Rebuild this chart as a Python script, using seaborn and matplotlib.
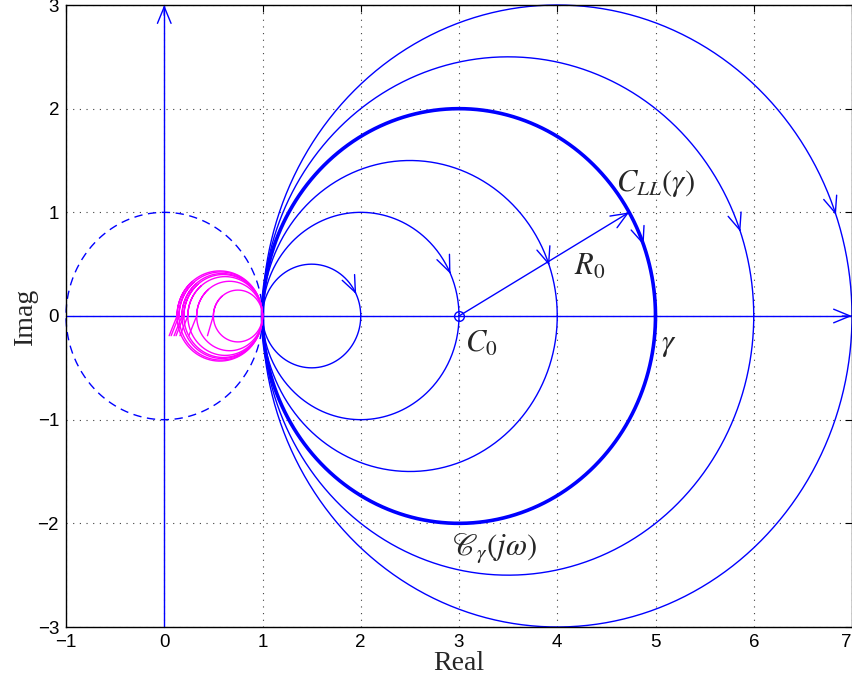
import numpy as np
import pandas as pd
import matplotlib
matplotlib.use("Agg")
import matplotlib.pyplot as plt
import seaborn as sns

# ---------------- data ----------------
# blue circles through (1,0): centers and radii
circle_centers = [1.5, 2.0, 2.5, 3.0, 3.5, 4.0]
circle_radii = [0.5, 1.0, 1.5, 2.0, 2.5, 3.0]
circle_thick = [False, False, False, True, False, False]
arrow_angles_deg = [25, 24, 19, 20, 19, 19]   # arrowhead position on each circle

# unit circle (dashed)
unit_center = [0.0, 0.0]
unit_radius = 1.0

# magenta loops: leftmost point of each loop (all pass through (1,0))
mag_left = [0.13, 0.15, 0.18, 0.20, 0.24, 0.33, 0.50]
mag_tail_dx = [-0.08, -0.08, -0.08, -0.08, -0.08, -0.08, -0.06]
mag_tail_dy = [-0.19, -0.19, -0.19, -0.19, -0.19, -0.19, -0.19]

# radius vector C0 -> point on gamma
c0 = [3.0, 0.0]
r0_angle_deg = 30

x_ticks = [-1, 0, 1, 2, 3, 4, 5, 6, 7]
y_ticks = [-3, -2, -1, 0, 1, 2, 3]

BLUE = (0, 0, 1)
MAG = (1, 0, 1)

# ---------------- style ----------------
sns.set_style("white")
plt.rcParams["font.family"] = ["Liberation Sans", "DejaVu Sans"]
plt.rcParams["mathtext.fontset"] = "stix"

fig = plt.figure(figsize=(8.53, 6.82), dpi=100)
ax = fig.add_axes([66 / 853, 1 - 627 / 682, 786 / 853, 622 / 682])


def circle_df(cx, cy, r, t0=0.0, t1=2 * np.pi, n=600):
    t = np.linspace(t0, t1, n)
    return pd.DataFrame({"x": cx + r * np.cos(t), "y": cy + r * np.sin(t)})


def arrow_on(p_from, p_to):
    ax.annotate("", xy=p_to, xytext=p_from,
                arrowprops=dict(arrowstyle="->,head_length=0.85,head_width=0.35",
                                color=BLUE, lw=1.0, shrinkA=0, shrinkB=0,
                                mutation_scale=14),
                annotation_clip=False)


# axes lines
ax_df = pd.DataFrame({"x": [-1, 7], "y": [0, 0]})
sns.lineplot(data=ax_df, x="x", y="y", sort=False, estimator=None, color=BLUE, lw=1.0, ax=ax)
arrow_on((6.9, 0), (7, 0))
ay_df = pd.DataFrame({"x": [0, 0], "y": [-3, 3]})
sns.lineplot(data=ay_df, x="x", y="y", sort=False, estimator=None, color=BLUE, lw=1.0, ax=ax)
arrow_on((0, 2.9), (0, 3))

# dashed unit circle
ud = circle_df(unit_center[0], unit_center[1], unit_radius)
sns.lineplot(data=ud, x="x", y="y", sort=False, estimator=None, color=BLUE, lw=1.0,
             ax=ax, linestyle=(0, (6, 4)))

# blue circles
for cx, r, thick, ang in zip(circle_centers, circle_radii, circle_thick, arrow_angles_deg):
    d = circle_df(cx, 0, r)
    sns.lineplot(data=d, x="x", y="y", sort=False, estimator=None, color=BLUE,
                 lw=2.6 if thick else 1.0, ax=ax)
    a = np.deg2rad(ang)
    p1 = (cx + r * np.cos(a), r * np.sin(a))
    a0 = a + 0.02 / r
    p0 = (cx + r * np.cos(a0), r * np.sin(a0))
    arrow_on(p0, p1)

# magenta loops
for left, tdx, tdy in zip(mag_left, mag_tail_dx, mag_tail_dy):
    cx = (left + 1) / 2
    r = (1 - left) / 2
    arc = circle_df(cx, 0, r, np.pi, -np.pi - np.deg2rad(50), 500)
    tail = pd.DataFrame({"x": [left + tdx], "y": [tdy]})
    d = pd.concat([tail, arc], ignore_index=True)
    sns.lineplot(data=d, x="x", y="y", sort=False, estimator=None, color=MAG, lw=1.0, ax=ax)

# radius vector and center marker
ar = np.deg2rad(r0_angle_deg)
pend = (c0[0] + 2.0 * np.cos(ar), c0[1] + 2.0 * np.sin(ar))
ax.plot([c0[0], pend[0]], [c0[1], pend[1]], color=BLUE, lw=1.0)
arrow_on((pend[0] - 0.02 * np.cos(ar), pend[1] - 0.02 * np.sin(ar)), pend)
ax.plot([c0[0]], [c0[1]], marker="o", mfc="none", mec=BLUE, ms=7, mew=1.0)

for ln in ax.lines:
    ln.set_clip_on(False)

# text annotations
FS = 22
ax.text(4.60, 1.28, r"$C_{LL}(\gamma)$", fontsize=FS, va="center", ha="left")
ax.text(4.17, 0.47, r"$R_0$", fontsize=FS, va="center", ha="left")
ax.text(3.06, -0.27, r"$C_0$", fontsize=FS, va="center", ha="left")
ax.text(5.06, -0.27, r"$\gamma$", fontsize=FS, va="center", ha="left")
ax.text(2.93, -2.25, r"$\mathscr{C}_{\gamma}(j\omega)$", fontsize=FS, va="center", ha="left")

# axes formatting
ax.set_xlim(-1, 7)
ax.set_ylim(-3, 3)
ax.set_xticks(x_ticks)
ax.set_yticks(y_ticks)
ax.set_xticklabels([str(v).replace("-", "\u2212") for v in x_ticks], fontsize=13.5)
ax.set_yticklabels([str(v).replace("-", "\u2212") for v in y_ticks], fontsize=13.5)
ax.get_xticklabels()[-1].set_horizontalalignment("right")
ax.tick_params(direction="in", top=True, right=True, length=5, width=0.8, pad=5, colors="k")
ax.grid(True, linestyle=(0, (1, 5)), color="0.25", lw=0.8)
for s in ax.spines.values():
    s.set_visible(True)
    s.set_color("k")
    s.set_linewidth(1.0)
ax.set_xlabel("Real", fontsize=20, family=["Liberation Serif", "DejaVu Serif"], labelpad=0)
ax.set_ylabel("Imag", fontsize=20, family=["Liberation Serif", "DejaVu Serif"], labelpad=0)

fig.savefig("out.png", dpi=100)
